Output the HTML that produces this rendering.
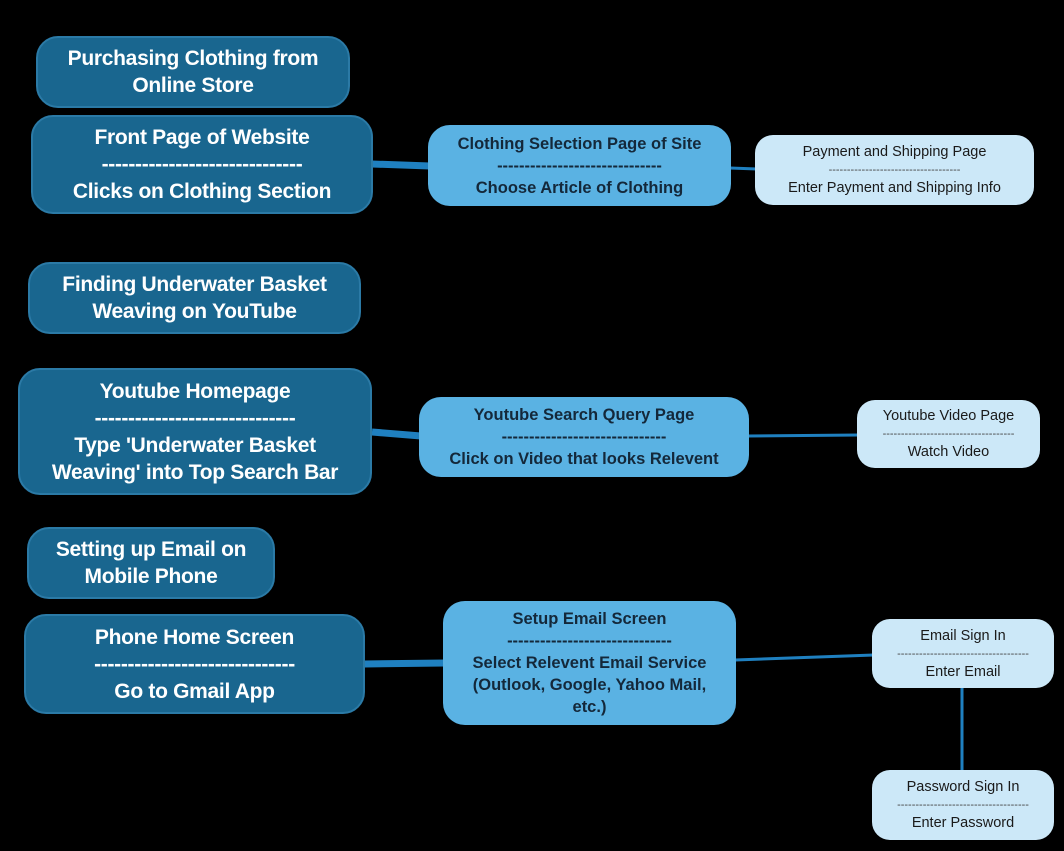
<!DOCTYPE html>
<html><head><meta charset="utf-8"><style>
body{margin:0;width:1064px;height:851px;background:#000;position:relative;overflow:hidden;font-family:"Liberation Sans",sans-serif}
.n{position:absolute;box-sizing:border-box;display:flex;flex-direction:column;justify-content:center;align-items:center;text-align:center;border-radius:22px}
.d{background:#19668f;color:#fff;font-weight:bold;font-size:21px;line-height:27px;border:2px solid #2b7aa6;letter-spacing:-0.3px}
.m{background:#5ab2e3;color:#14283a;font-weight:bold;font-size:16.5px;line-height:22px}
.l{background:#cce8f8;color:#1a1a1a;font-size:14.5px;line-height:18px;border-radius:18px}
.l .s{font-size:11px;line-height:18px;letter-spacing:0px;color:#444}
svg{position:absolute;left:0;top:0}
</style></head><body>
<svg width="1064" height="851">
<g stroke="#1f80c0" fill="none">
<line x1="372" y1="164" x2="430" y2="166" stroke-width="7"/>
<line x1="372" y1="432" x2="421" y2="436" stroke-width="7"/>
<line x1="364" y1="664" x2="445" y2="663" stroke-width="7"/>
<line x1="730" y1="168" x2="757" y2="169" stroke-width="3"/>
<line x1="748" y1="436" x2="859" y2="435" stroke-width="3"/>
<line x1="735" y1="660" x2="874" y2="655" stroke-width="3"/>
<line x1="962" y1="688" x2="962" y2="772" stroke-width="3"/>
</g></svg>
<div class="n d" style="left:36px;top:36px;width:314px;height:72px">Purchasing Clothing from<br>Online Store</div>
<div class="n d" style="left:31px;top:115px;width:342px;height:99px">Front Page of Website<br>------------------------------<br>Clicks on Clothing Section</div>
<div class="n d" style="left:28px;top:262px;width:333px;height:72px">Finding Underwater Basket<br>Weaving on YouTube</div>
<div class="n d" style="left:18px;top:368px;width:354px;height:127px">Youtube Homepage<br>------------------------------<br>Type 'Underwater Basket<br>Weaving' into Top Search Bar</div>
<div class="n d" style="left:27px;top:527px;width:248px;height:72px">Setting up Email on<br>Mobile Phone</div>
<div class="n d" style="left:24px;top:614px;width:341px;height:100px">Phone Home Screen<br>------------------------------<br>Go to Gmail App</div>
<div class="n m" style="left:428px;top:125px;width:303px;height:81px">Clothing Selection Page of Site<br>------------------------------<br>Choose Article of Clothing</div>
<div class="n m" style="left:419px;top:397px;width:330px;height:80px">Youtube Search Query Page<br>------------------------------<br>Click on Video that looks Relevent</div>
<div class="n m" style="left:443px;top:601px;width:293px;height:124px">Setup Email Screen<br>------------------------------<br>Select Relevent Email Service<br>(Outlook, Google, Yahoo Mail,<br>etc.)</div>
<div class="n l" style="left:755px;top:135px;width:279px;height:70px">Payment and Shipping Page<br><span class="s">------------------------------------</span>Enter Payment and Shipping Info</div>
<div class="n l" style="left:857px;top:400px;width:183px;height:68px">Youtube Video Page<br><span class="s">------------------------------------</span>Watch Video</div>
<div class="n l" style="left:872px;top:619px;width:182px;height:69px">Email Sign In<br><span class="s">------------------------------------</span>Enter Email</div>
<div class="n l" style="left:872px;top:770px;width:182px;height:70px">Password Sign In<br><span class="s">------------------------------------</span>Enter Password</div>
</body></html>
